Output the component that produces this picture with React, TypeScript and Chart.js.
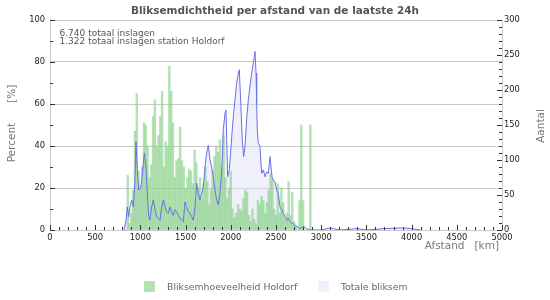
import React, { useEffect, useRef } from "react";
import { Chart, registerables } from "chart.js";
Chart.register(...registerables);

const FONT = "'DejaVu Sans', sans-serif";

const chartTitle = "Bliksemdichtheid per afstand van de laatste 24h";
const noteLines = ["6.740 totaal inslagen", "1.322 totaal inslagen station Holdorf"];
const barLabel = "Bliksemhoeveelheid Holdorf";
const lineLabel = "Totale bliksem";
const xTitle = "Afstand   [km]";
const yTitle = "Percent      [%]";
const y1Title = "Aantal";

// Holdorf share per distance bin (percent, left axis)
const barKm = [
  840, 860, 880, 900, 920, 940, 960, 980, 1000, 1020, 1040, 1060, 1080, 1100, 1120, 1140, 1160, 1180, 1200,
  1220, 1240, 1260, 1280, 1300, 1320, 1340, 1360, 1380, 1400, 1420, 1440, 1460, 1480, 1500, 1520, 1540, 1560,
  1580, 1600, 1620, 1640, 1660, 1680, 1700, 1720, 1740, 1760, 1780, 1800, 1820, 1840, 1860, 1880, 1900, 1920,
  1940, 1960, 1980, 2000, 2020, 2040, 2060, 2080, 2100, 2120, 2140, 2160, 2180, 2200, 2220, 2240, 2260, 2280,
  2300, 2320, 2340, 2360, 2380, 2400, 2420, 2440, 2460, 2480, 2500, 2520, 2540, 2560, 2580, 2600, 2620, 2640,
  2660, 2680, 2700, 2720, 2740, 2760, 2780, 2800, 2820, 2840, 2860, 2880, 2900,
];
const barPercent = [
  0, 26, 3, 8, 19, 47, 65, 28, 20, 30, 51, 50, 40, 25, 31, 54, 62, 40, 45,
  54, 66, 30, 42, 40, 78, 66, 51, 25, 33, 34, 49, 33, 30, 20, 25, 29, 28,
  22, 38, 32, 20, 25, 15, 22, 30, 23, 12, 20, 28, 35, 40, 37, 43, 30, 45,
  25, 15, 20, 28, 10, 6, 8, 12, 10, 9, 15, 19, 18, 7, 4, 10, 5, 3,
  14, 12, 16, 14, 8, 13, 19, 27, 24, 10, 7, 22, 8, 20, 13, 5, 8, 23,
  7, 18, 4, 2, 0, 14, 50, 14, 0, 0, 0, 50, 0,
];

// Total lightning count per distance (right axis)
const lineKm = [
  820, 841, 855, 870, 885, 903, 922, 940, 951, 966, 981, 1003, 1018, 1032, 1044, 1062, 1077, 1092, 1106,
  1124, 1143, 1161, 1180, 1198, 1217, 1235, 1254, 1272, 1290, 1309, 1327, 1346, 1364, 1382, 1401, 1419,
  1438, 1456, 1475, 1493, 1512, 1530, 1549, 1567, 1585, 1604, 1622, 1641, 1659, 1678, 1696, 1715, 1733,
  1751, 1770, 1788, 1807, 1825, 1844, 1862, 1880, 1899, 1917, 1936, 1947, 1965, 1984, 2010, 2028, 2046,
  2065, 2083, 2094, 2112, 2127, 2142, 2157, 2175, 2194, 2212, 2231, 2249, 2268, 2279, 2286, 2293, 2304,
  2323, 2341, 2360, 2378, 2397, 2415, 2434, 2445, 2456, 2470, 2489, 2507, 2526, 2544, 2562, 2581, 2599,
  2618, 2636, 2655, 2673, 2692, 2729, 2765, 2802, 2839, 2876, 3000, 3100, 3200, 3400, 3500, 3700, 3900,
  4000, 4100,
];
const lineCount = [
  0, 14, 33, 19, 33, 43, 33, 71, 126, 86, 57, 60, 76, 95, 110, 90, 52, 19, 14,
  33, 43, 29, 19, 17, 14, 33, 43, 33, 26, 24, 33, 26, 21, 29, 26, 21,
  17, 14, 12, 40, 33, 26, 24, 19, 14, 33, 67, 52, 43, 52, 62, 90, 110,
  121, 100, 90, 76, 57, 43, 36, 52, 83, 143, 167, 171, 76, 86, 133, 162, 186,
  210, 224, 229, 176, 129, 105, 119, 157, 186, 205, 224, 238, 255, 224, 181, 143, 124,
  119, 81, 86, 76, 83, 81, 105, 90, 76, 71, 69, 57, 52, 33, 29, 24, 19,
  14, 17, 12, 10, 9, 5, 2, 5, 2, 0, 0, 3, 0, 2, 0, 2, 3,
  2, 0,
];

const xMax = 5000;
const xStep = 500;
const yMax = 100;
const yStep = 20;
const y1Max = 300;
const y1Step = 50;

const GREEN = "rgba(140,210,140,0.65)";
const GREEN_SOLID = "#b4e2b4";
const LAVENDER = "rgba(225,225,250,0.5)";
const LAVENDER_SOLID = "#f0f0fc";
const BLUE = "rgb(105,112,230)";

const plainLabel = (v: any) => String(v);

const decor = {
  id: "decor",
  afterDatasetsDraw(chart: any) {
    const { ctx, chartArea: a, scales } = chart;
    ctx.save();
    ctx.strokeStyle = "#333";
    ctx.lineWidth = 1;
    ctx.beginPath();
    for (let v = 0; v <= xMax; v += 100) {
      const px = Math.round(scales.x.getPixelForValue(v)) + 0.5;
      const len = v % xStep === 0 ? 5 : 3;
      ctx.moveTo(px, a.bottom);
      ctx.lineTo(px, a.bottom - len);
    }
    for (let v = 0; v <= yMax; v += 10) {
      const py = Math.round(scales.y.getPixelForValue(v)) + 0.5;
      const len = v % yStep === 0 ? 5 : 3;
      ctx.moveTo(a.left, py);
      ctx.lineTo(a.left + len, py);
    }
    for (let v = 0; v <= y1Max; v += 10) {
      const py = Math.round(scales.y1.getPixelForValue(v)) + 0.5;
      const len = v % y1Step === 0 ? 5 : 3;
      ctx.moveTo(a.right, py);
      ctx.lineTo(a.right - len, py);
    }
    ctx.stroke();
    ctx.restore();
  },
  afterDraw(chart: any) {
    const { ctx, chartArea: a } = chart;
    ctx.save();
    // title
    ctx.fillStyle = "#555";
    ctx.font = `bold 10.5px ${FONT}`;
    ctx.textAlign = "center";
    ctx.textBaseline = "alphabetic";
    ctx.fillText(chartTitle, 275, 13.5);
    // notes
    ctx.font = `9px ${FONT}`;
    ctx.textAlign = "left";
    ctx.fillStyle = "#555";
    ctx.fillText(noteLines[0], a.left + 9.5, 36);
    ctx.fillText(noteLines[1], a.left + 9.5, 44.3);
    // axis titles
    ctx.fillStyle = "#777";
    ctx.font = `10.5px ${FONT}`;
    ctx.textAlign = "right";
    ctx.textBaseline = "middle";
    ctx.fillText(xTitle, 499, 246.5);
    ctx.save();
    ctx.translate(12.5, 123.5);
    ctx.rotate(-Math.PI / 2);
    ctx.textAlign = "center";
    ctx.fillText(yTitle, 0, 0);
    ctx.restore();
    ctx.save();
    ctx.translate(541, 126);
    ctx.rotate(-Math.PI / 2);
    ctx.textAlign = "center";
    ctx.fillText(y1Title, 0, 0);
    ctx.restore();
    // legend
    ctx.fillStyle = GREEN_SOLID;
    ctx.fillRect(144, 281, 11, 11);
    ctx.fillStyle = LAVENDER_SOLID;
    ctx.fillRect(318, 281, 11, 11);
    ctx.fillStyle = "#666";
    ctx.font = `9.3px ${FONT}`;
    ctx.textAlign = "left";
    ctx.textBaseline = "middle";
    ctx.fillText(barLabel, 167, 288);
    ctx.fillText(lineLabel, 341, 288);
    ctx.restore();
  },
};

export default function App() {
  const ref = useRef<HTMLCanvasElement>(null);
  useEffect(() => {
    document.body.style.margin = "0";
    const canvas = ref.current;
    if (!canvas) return;
    const chart = new Chart(canvas, {
      type: "bar",
      data: {
        datasets: [
          {
            type: "line",
            label: lineLabel,
            data: lineKm.map((k, i) => ({ x: k, y: lineCount[i] })),
            yAxisID: "y1",
            borderColor: BLUE,
            borderWidth: 1,
            backgroundColor: LAVENDER,
            fill: "origin",
            pointRadius: 0,
            tension: 0,
            order: 0,
          } as any,
          {
            type: "bar",
            label: barLabel,
            data: barKm.map((k, i) => ({ x: k, y: barPercent[i] })),
            yAxisID: "y",
            backgroundColor: GREEN,
            borderWidth: 0,
            barPercentage: 1,
            categoryPercentage: 1,
            order: 1,
          } as any,
        ],
      },
      options: {
        animation: false,
        responsive: false,
        devicePixelRatio: 1,
        layout: { padding: { top: 20, left: 0, right: 0, bottom: 0 } },
        font: { family: FONT },
        plugins: {
          legend: { display: false },
          title: { display: false },
          tooltip: { enabled: false },
          filler: { drawTime: "beforeDatasetsDraw" },
        } as any,
        scales: {
          x: {
            type: "linear",
            min: 0,
            max: xMax,
            offset: false,
            grid: { display: false, drawTicks: false },
            border: { color: "#c8c8c8" },
            ticks: {
              stepSize: xStep,
              color: "#222",
              padding: 3,
              maxRotation: 0,
              font: { family: FONT, size: 8.3 },
              callback: plainLabel,
            },
            afterFit: (s: any) => {
              s.height = 70;
            },
          },
          y: {
            position: "left",
            min: 0,
            max: yMax,
            grid: { color: "#c8c8c8", drawTicks: false },
            border: { color: "#c8c8c8" },
            ticks: {
              stepSize: yStep,
              color: "#222",
              padding: 5,
              font: { family: FONT, size: 8.3 },
              callback: plainLabel,
            },
            afterFit: (s: any) => {
              s.width = 50;
            },
          },
          y1: {
            position: "right",
            min: 0,
            max: y1Max,
            grid: { display: false, drawTicks: false },
            border: { color: "#c8c8c8" },
            ticks: {
              stepSize: y1Step,
              color: "#222",
              padding: 2,
              font: { family: FONT, size: 8.3 },
              callback: plainLabel,
            },
            afterFit: (s: any) => {
              s.width = 48;
            },
          },
        },
      } as any,
      plugins: [decor],
    });
    return () => chart.destroy();
  }, []);
  return <canvas ref={ref} width={550} height={300} style={{ display: "block" }} />;
}
